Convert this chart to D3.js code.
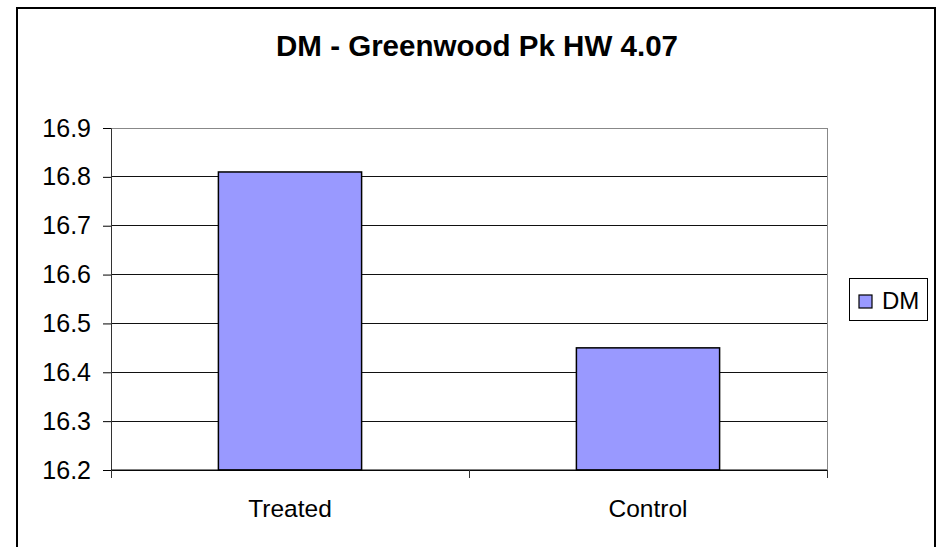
<!DOCTYPE html>
<html>
<head>
<meta charset="utf-8">
<script src="https://cdn.jsdelivr.net/npm/d3@7"></script>
<style>
  html, body { margin: 0; padding: 0; background: #fff; }
  svg { display: block; font-family: "Liberation Sans", Arial, sans-serif; }
</style>
</head>
<body>
<div id="app"></div>
<script>
// chart data
const categories = ["Treated", "Control"];
const dmValues = [16.81, 16.45];
const yTicks = [16.2, 16.3, 16.4, 16.5, 16.6, 16.7, 16.8, 16.9];
const seriesName = "DM";
const chartTitle = "DM - Greenwood Pk HW 4.07";

const width = 937, height = 547;
const plot = { left: 111, right: 827, top: 128, bottom: 470 };

const svg = d3.select("#app").append("svg")
  .attr("width", width)
  .attr("height", height);

// outer chart frame
svg.append("rect")
  .attr("x", 17).attr("y", 8)
  .attr("width", 918).attr("height", 560)
  .attr("fill", "#fff")
  .attr("stroke", "#000")
  .attr("stroke-width", 2);

svg.append("text")
  .attr("x", 477).attr("y", 56)
  .attr("text-anchor", "middle")
  .attr("font-size", 29)
  .attr("font-weight", "bold")
  .attr("textLength", 402)
  .attr("lengthAdjust", "spacingAndGlyphs")
  .text(chartTitle);

const x = d3.scaleBand()
  .domain(categories)
  .range([plot.left, plot.right])
  .paddingInner(0.6)
  .paddingOuter(0.3);

const y = d3.scaleLinear()
  .domain([16.2, 16.9])
  .range([plot.bottom, plot.top]);

// gridlines
svg.append("g")
  .selectAll("line")
  .data(yTicks)
  .join("line")
  .attr("x1", plot.left).attr("x2", plot.right)
  .attr("y1", d => y(d)).attr("y2", d => y(d))
  .attr("stroke", d => d === 16.9 ? "#888" : "#111")
  .attr("stroke-width", 1)
  .attr("shape-rendering", "crispEdges");

// right side of plot area
svg.append("line")
  .attr("x1", plot.right).attr("x2", plot.right)
  .attr("y1", plot.top).attr("y2", plot.bottom)
  .attr("stroke", "#888")
  .attr("shape-rendering", "crispEdges");

// y axis
const yAxis = svg.append("g")
  .attr("transform", `translate(${plot.left},0)`)
  .call(d3.axisLeft(y).tickValues(yTicks).tickFormat(d3.format(".1f")).tickSize(8).tickPadding(12));
yAxis.select(".domain").attr("stroke", "#333");
yAxis.selectAll(".tick line").attr("stroke", "#000");
yAxis.selectAll("text")
  .attr("font-size", 25)
  .attr("font-family", "Liberation Sans, Arial, sans-serif")
  .attr("fill", "#000");

// bars
svg.append("g")
  .selectAll("rect")
  .data(categories)
  .join("rect")
  .attr("x", d => x(d))
  .attr("y", (d, i) => y(dmValues[i]))
  .attr("width", x.bandwidth())
  .attr("height", (d, i) => y(16.2) - y(dmValues[i]))
  .attr("fill", "#9999ff")
  .attr("stroke", "#000")
  .attr("stroke-width", 1.5);

// x axis line and category boundary ticks
const boundaries = d3.range(categories.length + 1).map(i => plot.left + i * (plot.right - plot.left) / categories.length);
svg.append("line")
  .attr("x1", plot.left).attr("x2", plot.right)
  .attr("y1", plot.bottom).attr("y2", plot.bottom)
  .attr("stroke", "#000")
  .attr("stroke-width", 1.2);
svg.append("g")
  .selectAll("line")
  .data(boundaries)
  .join("line")
  .attr("x1", d => d).attr("x2", d => d)
  .attr("y1", plot.bottom).attr("y2", plot.bottom + 8)
  .attr("stroke", "#333")
  .attr("shape-rendering", "crispEdges");

svg.append("g")
  .selectAll("text")
  .data(categories)
  .join("text")
  .attr("x", d => x(d) + x.bandwidth() / 2)
  .attr("y", 517)
  .attr("text-anchor", "middle")
  .attr("font-size", 24.5)
  .text(d => d);

// legend
const legend = svg.append("g");
legend.append("rect")
  .attr("x", 849.5).attr("y", 278.5)
  .attr("width", 78).attr("height", 42)
  .attr("fill", "#fff")
  .attr("stroke", "#000")
  .attr("stroke-width", 1);
legend.append("rect")
  .attr("x", 859).attr("y", 295)
  .attr("width", 13).attr("height", 13)
  .attr("fill", "#9999ff")
  .attr("stroke", "#000")
  .attr("stroke-width", 1.2);
legend.append("text")
  .attr("x", 882).attr("y", 309)
  .attr("font-size", 24)
  .text(seriesName);
</script>
</body>
</html>
